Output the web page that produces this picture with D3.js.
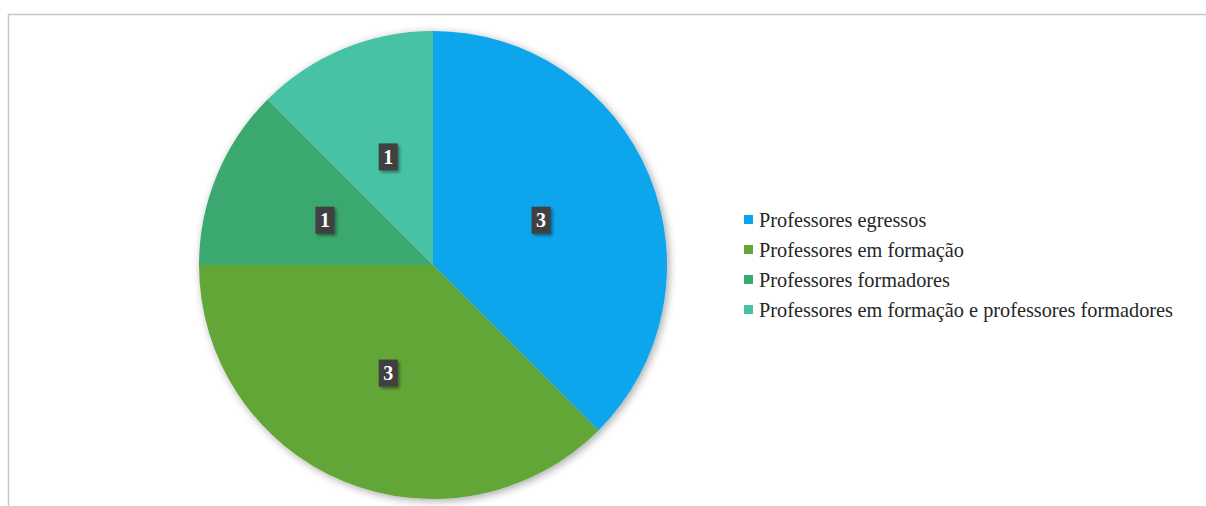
<!DOCTYPE html>
<html><head><meta charset="utf-8">
<script src="https://cdn.jsdelivr.net/npm/d3@7"></script>
<style>body{margin:0;background:#fff;}svg{display:block;}</style>
</head><body>
<svg id="c" width="1206" height="506"></svg>
<script>
const categories = ["Professores egressos","Professores em formação","Professores formadores","Professores em formação e professores formadores"];
const values = [3,3,1,1];
const colors = ["#09A5EC","#64A638","#3AA86F","#46C2A5"];
const FONT = '"Liberation Serif"';

const svg = d3.select("#c");
const defs = svg.append("defs");
const sh = defs.append("filter").attr("id","sh").attr("x","-20%").attr("y","-20%").attr("width","140%").attr("height","140%");
sh.append("feGaussianBlur").attr("in","SourceAlpha").attr("stdDeviation",4);
sh.append("feOffset").attr("dx",2).attr("dy",2).attr("result","b");
sh.append("feComponentTransfer").append("feFuncA").attr("type","linear").attr("slope",0.35);
const m1 = sh.append("feMerge"); m1.append("feMergeNode"); m1.append("feMergeNode").attr("in","SourceGraphic");
const sh2 = defs.append("filter").attr("id","sh2").attr("x","-50%").attr("y","-50%").attr("width","200%").attr("height","200%");
sh2.append("feGaussianBlur").attr("in","SourceAlpha").attr("stdDeviation",1.5);
sh2.append("feOffset").attr("dx",2).attr("dy",2);
sh2.append("feComponentTransfer").append("feFuncA").attr("type","linear").attr("slope",0.4);
const m2 = sh2.append("feMerge"); m2.append("feMergeNode"); m2.append("feMergeNode").attr("in","SourceGraphic");

// frame
svg.append("path").attr("d","M8.5,506 V14.5 H1206").attr("fill","none").attr("stroke","#c8c8c8").attr("stroke-width",1.5);

const cx = 433, cy = 265, R = 234;
const pie = d3.pie().sort(null).value(d=>d)(values);
const arc = d3.arc().innerRadius(0).outerRadius(R);
const lab = d3.arc().innerRadius(R*0.5).outerRadius(R*0.5);
const g = svg.append("g").attr("transform",`translate(${cx},${cy})`);
const pg = g.append("g").attr("filter","url(#sh)");
pg.selectAll("path").data(pie).join("path").attr("d",arc).attr("fill",(d,i)=>colors[i]);

const lg = g.selectAll("g.lab").data(pie).join("g").attr("class","lab")
  .attr("transform",d=>`translate(${lab.centroid(d)})`);
lg.append("rect").attr("x",-9.5).attr("y",-13.5).attr("width",19).attr("height",27).attr("fill","#404040").attr("filter","url(#sh2)");
lg.append("text").attr("text-anchor","middle").attr("dy","0.35em")
  .style("font-family",FONT).style("font-weight","bold").style("font-size","20px")
  .attr("fill","#fff").text(d=>d.data);

const leg = svg.append("g").attr("transform","translate(744,220)");
const li = leg.selectAll("g").data(categories).join("g").attr("transform",(d,i)=>`translate(0,${i*30})`);
li.append("rect").attr("x",0).attr("y",-5).attr("width",9).attr("height",9).attr("fill",(d,i)=>colors[i]);
li.append("text").attr("x",15).attr("dy","0.35em")
  .style("font-family",FONT).style("font-size","20.3px")
  .attr("fill","#262626").text(d=>d);
</script>
</body></html>
